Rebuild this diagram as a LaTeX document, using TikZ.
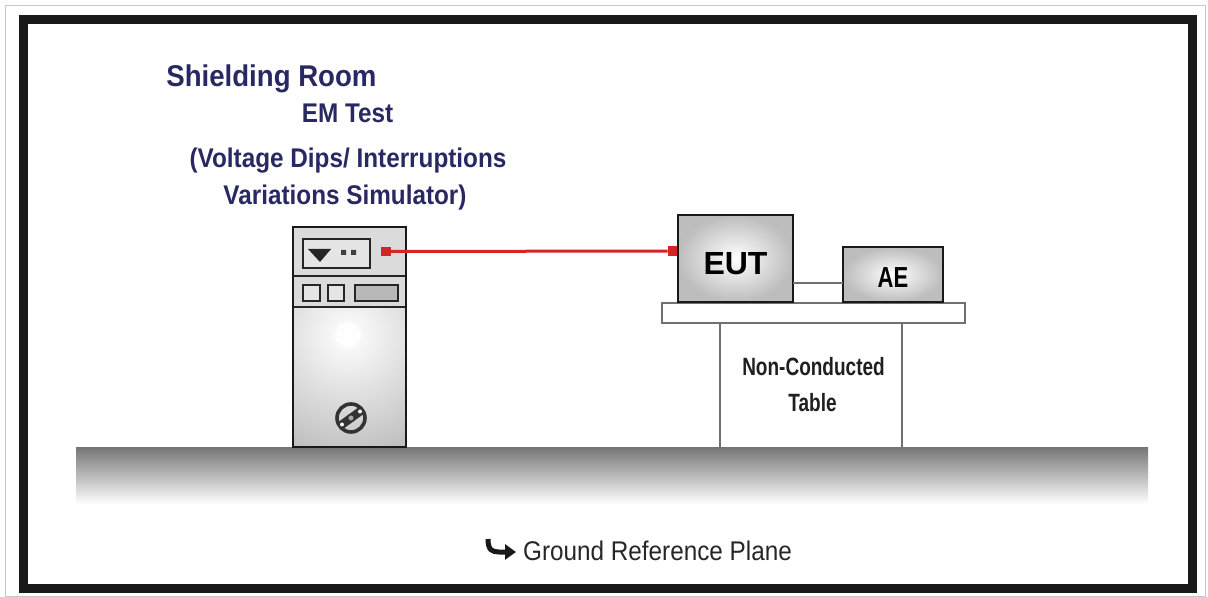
\documentclass[tikz,border=0pt]{standalone}
\usepackage{fontspec}
\setmainfont{Liberation Sans}
\newfontfamily\headfont[FakeStretch=0.92]{Liberation Sans}
\newfontfamily\condfont[FakeStretch=0.9]{Liberation Sans}
\newfontfamily\narrowfont[FakeStretch=0.76]{Liberation Sans}
\usetikzlibrary{arrows.meta}
\definecolor{navy}{RGB}{40,40,98}
\definecolor{cablered}{RGB}{212,36,36}
\definecolor{leggray}{RGB}{112,112,112}

\begin{document}
\begin{tikzpicture}[x=0.5pt, y=-0.5pt,
  title/.style={font=\headfont\bfseries\fontsize{15}{18}\selectfont, text=navy, inner sep=0},
  caption/.style={font=\condfont\bfseries\fontsize{13.5}{16}\selectfont, text=navy, inner sep=0},
  unit/.style={draw=black!90, line width=1.2pt, inner color=white, outer color=black!26,
    inner sep=0, outer sep=0},
  key/.style={draw=black!85, line width=0.8pt, fill=black!10},
  port/.style={fill=cablered, minimum size=4.8pt, inner sep=0, outer sep=0},
  leg/.style={draw=leggray, line width=1pt},
  tablelabel/.style={font=\narrowfont\bfseries\fontsize{12.5}{15}\selectfont, text=black!88, inner sep=0}]

  \useasboundingbox (0,0) rectangle (1208,597);
  \draw[black!22, line width=0.5pt] (5.5,5.5) rectangle (1205,596);
  \draw[black!90, line width=4.5pt] (23,19.5) rectangle (1192,588);

  \node (plane) [top color=black!53, middle color=black!36, bottom color=white,
    minimum width=536pt, minimum height=28pt, inner sep=0, outer sep=0] at (612,476) {};

  \node (room) [title, anchor=base west] at (166,87) {Shielding Room};
  \node (em) [caption, anchor=base] at (347.5,123) {EM Test};
  \node (dips) [caption, anchor=base] at (348,168) {(Voltage Dips/ Interruptions};
  \node (var) [caption, anchor=base] at (345,205) {Variations Simulator)};

  \fill[black!14] (293,227) rectangle (406,307);
  \begin{scope}
    \clip (293,307) rectangle (406,447);
    \shade[inner color=white, outer color=black!34] (348,335) circle (165);
    \fill[white, opacity=0.8] (348,335) circle (13);
  \end{scope}
  \draw[black!85, line width=1pt] (293,276) -- (406,276) (293,307) -- (406,307);
  \draw[key] (303,239) rectangle (370,268);
  \fill[black!85] (308,249) -- (331,249) -- (320,262) -- cycle;
  \fill[black!75] (341,250) rectangle (346,255) (351,250) rectangle (356,255);
  \draw[key] (303,285) rectangle (320,301);
  \draw[key] (328,285) rectangle (344,301);
  \draw[key, fill=black!28] (355,285) rectangle (398,301);
  \draw[black!80, line width=1.8pt] (351,418) circle (14);
  \draw[black!80, line width=4.2pt] (340,426) -- (362,410);
  \fill[white] (342,424.5) circle (2) (360,411.5) circle (2);
  \draw[black!80, fill=black!35, line width=0.8pt] (351,418) circle (3.5);
  \node (sim) [draw=black!90, line width=1.2pt, minimum width=56.5pt, minimum height=110pt,
    inner sep=0, outer sep=0] at (349.5,337) {};

  \node (top) [draw=leggray, line width=1pt, fill=white, minimum width=151.5pt,
    minimum height=10pt, inner sep=0, outer sep=0] at (813.5,313) {};
  \coordinate (legL) at (720,0);
  \coordinate (legR) at (902,0);
  \draw[leg] (top.south -| legL) -- (plane.north -| legL);
  \draw[leg] (top.south -| legR) -- (plane.north -| legR);
  \node (nc) [tablelabel, anchor=base] at (813.5,376) {Non-Conducted};
  \node (tbl) [tablelabel, anchor=base] at (812.5,412) {Table};

  \node (EUT) [unit, minimum width=57.5pt, minimum height=43.5pt, text height=16.2pt, text depth=0pt,
    font=\bfseries\fontsize{16}{19}\selectfont] at (735.5,258.5) {EUT};
  \node (AE) [unit, minimum width=50pt, minimum height=27.5pt, text height=13.2pt, text depth=0pt,
    font=\narrowfont\bfseries\fontsize{14.5}{17}\selectfont] at (893,274.5) {AE};
  \coordinate (link) at (818,283);
  \draw[leggray, line width=1.2pt] (EUT.east |- link) -- (AE.west |- link);

  \node (out) [port] at (386,251.5) {};
  \node (in) [port] at (672.5,251) {};
  \draw[cablered, line width=1.5pt] (out) -- (in);

  \coordinate (hook) at (488,539);
  \draw[black!90, line width=2.5pt, -{Triangle[length=5.5pt, width=7.5pt]}]
    (hook) .. controls (488,550) and (492,552) .. (499,552) -- (516,552);
  \node (gnd) [font=\condfont\fontsize{13.5}{16}\selectfont, text=black!85, inner sep=0,
    anchor=base] at (657.5,560) {Ground Reference Plane};
\end{tikzpicture}
\end{document}
